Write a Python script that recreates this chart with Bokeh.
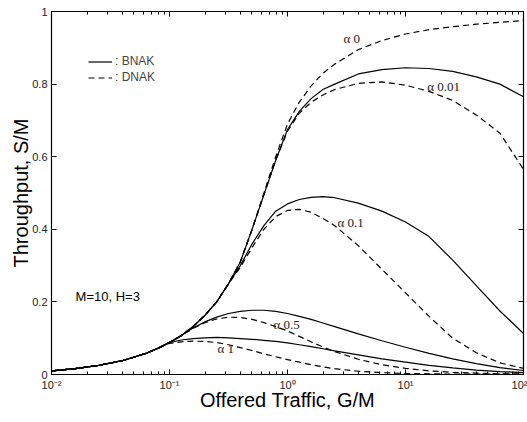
from bokeh.plotting import figure
from bokeh.models import (LogAxis, LinearAxis, FixedTicker, LogTicker, Label,
                          Legend, LegendItem, Range1d)
from bokeh.embed import file_html
from bokeh.resources import INLINE

# offered traffic G/M as log10 values (finer steps around the knee)
log_g = [-2.0, -1.8, -1.6, -1.4, -1.2, -1.1, -1.0, -0.9, -0.8, -0.7, -0.6, -0.5,
         -0.4, -0.3, -0.2, -0.1, 0.0, 0.1, 0.2, 0.3, 0.4, 0.6, 0.8, 1.0, 1.2,
         1.4, 1.6, 1.8, 2.0]

# throughput S/M -- DNAK, alpha = 0
dnak_a0 = [0.010, 0.016, 0.025, 0.038, 0.058, 0.072, 0.088, 0.107, 0.132, 0.163,
           0.200, 0.250, 0.310, 0.400, 0.500, 0.600, 0.690, 0.750, 0.795, 0.830,
           0.855, 0.895, 0.920, 0.938, 0.950, 0.958, 0.965, 0.970, 0.975]
# alpha = 0.01
bnak_a001 = [0.010, 0.016, 0.025, 0.038, 0.058, 0.072, 0.088, 0.107, 0.132, 0.163,
             0.200, 0.250, 0.310, 0.400, 0.495, 0.590, 0.675, 0.725, 0.760, 0.785,
             0.800, 0.828, 0.840, 0.845, 0.843, 0.835, 0.820, 0.800, 0.765]
dnak_a001 = [0.010, 0.016, 0.025, 0.038, 0.058, 0.072, 0.088, 0.107, 0.132, 0.163,
             0.200, 0.250, 0.310, 0.400, 0.495, 0.590, 0.670, 0.720, 0.750, 0.770,
             0.785, 0.802, 0.806, 0.797, 0.780, 0.755, 0.715, 0.665, 0.565]
# alpha = 0.1
bnak_a01 = [0.010, 0.016, 0.025, 0.038, 0.058, 0.072, 0.088, 0.107, 0.132, 0.163,
            0.200, 0.250, 0.300, 0.360, 0.410, 0.450, 0.470, 0.482, 0.488, 0.490,
            0.487, 0.472, 0.450, 0.420, 0.380, 0.315, 0.245, 0.175, 0.113]
dnak_a01 = [0.010, 0.016, 0.025, 0.038, 0.058, 0.072, 0.088, 0.107, 0.132, 0.163,
            0.200, 0.250, 0.295, 0.350, 0.400, 0.435, 0.452, 0.455, 0.447, 0.430,
            0.410, 0.355, 0.290, 0.225, 0.160, 0.100, 0.060, 0.032, 0.017]
# alpha = 0.5
bnak_a05 = [0.010, 0.016, 0.025, 0.038, 0.058, 0.072, 0.088, 0.108, 0.128, 0.145,
            0.158, 0.168, 0.174, 0.177, 0.177, 0.174, 0.168, 0.160, 0.152, 0.142,
            0.132, 0.112, 0.093, 0.075, 0.058, 0.043, 0.030, 0.019, 0.011]
dnak_a05 = [0.010, 0.016, 0.025, 0.038, 0.058, 0.072, 0.088, 0.107, 0.127, 0.143,
            0.153, 0.158, 0.157, 0.152, 0.143, 0.132, 0.120, 0.105, 0.090, 0.076,
            0.063, 0.042, 0.027, 0.017, 0.010, 0.006, 0.004, 0.002, 0.001]
# alpha = 1
bnak_a1 = [0.010, 0.016, 0.025, 0.038, 0.058, 0.072, 0.088, 0.095, 0.099, 0.101,
           0.102, 0.101, 0.099, 0.097, 0.094, 0.091, 0.087, 0.082, 0.077, 0.071,
           0.065, 0.054, 0.043, 0.034, 0.025, 0.018, 0.012, 0.008, 0.005]
dnak_a1 = [0.010, 0.016, 0.025, 0.038, 0.058, 0.072, 0.086, 0.090, 0.092, 0.091,
           0.088, 0.082, 0.074, 0.066, 0.057, 0.049, 0.041, 0.034, 0.027, 0.021,
           0.016, 0.009, 0.005, 0.003, 0.002, 0.001, 0.001, 0.001, 0.001]

y_ticks = [0, 0.2, 0.4, 0.6, 0.8, 1.0]
x_tick_labels = {0.01: "10⁻²", 0.1: "10⁻¹", 1: "10⁰", 10: "10¹", 100: "10²"}

g = [10 ** v for v in log_g]
FONT = "Liberation Sans"
SERIF = "Liberation Serif"

p = figure(width=527, height=422, x_axis_type="log", output_backend="svg",
           toolbar_location=None, x_range=Range1d(0.01, 100), y_range=Range1d(0, 1),
           min_border_left=51, min_border_right=4, min_border_top=11, min_border_bottom=48,
           x_axis_label="Offered Traffic, G/M", y_axis_label="Throughput, S/M")
p.grid.visible = False
p.outline_line_color = "black"
p.outline_line_width = 1.2
p.background_fill_color = "white"
p.border_fill_color = "white"

xa = p.xaxis[0]
xa.ticker = LogTicker(desired_num_ticks=5, num_minor_ticks=10)
xa.major_label_overrides = x_tick_labels
ya = p.yaxis[0]
ya.ticker = FixedTicker(ticks=y_ticks)
ya.major_label_overrides = {0: "0", 1.0: "1"}

for ax in (xa, ya):
    ax.axis_line_color = "black"
    ax.major_tick_in = 5
    ax.major_tick_out = 0
    ax.minor_tick_in = 3
    ax.minor_tick_out = 0
    ax.major_label_text_font = FONT
    ax.major_label_text_font_size = "11px"
    ax.major_label_text_color = "#222222"
    ax.axis_label_text_font = FONT
    ax.axis_label_text_font_size = "20px"
    ax.axis_label_text_font_style = "normal"
    ax.axis_label_text_color = "black"
    ax.major_label_standoff = 4
ya.minor_tick_line_color = None
ya.axis_label_standoff = -3
xa.axis_label_standoff = -5

# box axes on the top and right with inward ticks only
top = LogAxis(ticker=LogTicker(desired_num_ticks=5, num_minor_ticks=10),
              major_label_text_color=None, major_tick_in=5, major_tick_out=0,
              minor_tick_in=3, minor_tick_out=0, major_label_standoff=0)
right = LinearAxis(ticker=FixedTicker(ticks=y_ticks), major_label_text_color=None,
                   major_tick_in=5, major_tick_out=0, minor_tick_line_color=None,
                   major_label_standoff=0)
p.add_layout(top, "above")
p.add_layout(right, "right")

lw = 1.2
solid_kw = dict(line_color="black", line_width=lw)
dash_kw = dict(line_color="black", line_width=lw, line_dash="6 4")

r_b = p.line(g, bnak_a001, **solid_kw)
p.line(g, bnak_a01, **solid_kw)
p.line(g, bnak_a05, **solid_kw)
p.line(g, bnak_a1, **solid_kw)
r_d = p.line(g, dnak_a0, **dash_kw)
p.line(g, dnak_a001, **dash_kw)
p.line(g, dnak_a01, **dash_kw)
p.line(g, dnak_a05, **dash_kw)
p.line(g, dnak_a1, **dash_kw)

legend = Legend(items=[LegendItem(label=": BNAK", renderers=[r_b]),
                       LegendItem(label=": DNAK", renderers=[r_d])],
                location=(37, 290), orientation="vertical",
                border_line_color=None, background_fill_alpha=0,
                label_text_font=FONT, label_text_font_size="12px",
                glyph_width=24, glyph_height=13, label_standoff=3,
                spacing=2, padding=0, margin=0, label_height=13)
p.add_layout(legend, "center")

curve_labels = [("α  0", 2.98, 0.904), ("α  0.01", 15.3, 0.774), ("α  0.1", 2.65, 0.397),
                ("α  0.5", 0.76, 0.118), ("α  1", 0.255, 0.052)]
for text, x, y in curve_labels:
    p.add_layout(Label(x=x, y=y, text=text, text_font=SERIF, text_font_size="13px",
                       text_color="#222222"))

p.add_layout(Label(x=0.016, y=0.193, text="M=10, H=3", text_font=FONT,
                   text_font_size="13px", text_color="black"))

open("out.html", "w").write(file_html(p, INLINE))
